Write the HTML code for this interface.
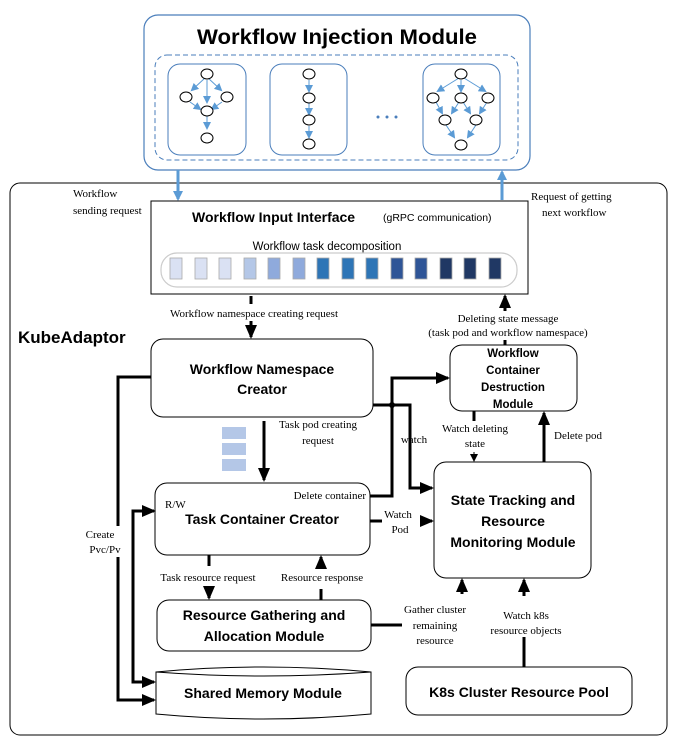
<!DOCTYPE html>
<html><head><meta charset="utf-8"><style>
body{margin:0;background:#fff}
svg{display:block}
.s{font-family:"Liberation Serif",serif;font-size:11px;fill:#000}
.b{font-family:"Liberation Sans",sans-serif;font-weight:bold;fill:#000}
</style></head><body>
<svg width="684" height="749" viewBox="0 0 684 749" xmlns="http://www.w3.org/2000/svg">
<defs>
<marker id="a" markerWidth="8" markerHeight="8" refX="6" refY="4" orient="auto" markerUnits="userSpaceOnUse"><path d="M0,0L8,4L0,8z" fill="#000"/></marker>
<marker id="ab" markerWidth="14" markerHeight="12" refX="12" refY="6" orient="auto" markerUnits="userSpaceOnUse"><path d="M0,0L14,6L0,12z" fill="#000"/></marker>
<marker id="bl" markerWidth="10" markerHeight="10" refX="8" refY="5" orient="auto" markerUnits="userSpaceOnUse"><path d="M0,0L10,5L0,10z" fill="#5b9bd5"/></marker>
<marker id="sb" markerWidth="8" markerHeight="8" refX="6" refY="4" orient="auto" markerUnits="userSpaceOnUse"><path d="M0,0L8,4L0,8z" fill="#5b9bd5"/></marker>
</defs>
<!-- Injection module -->
<rect x="144" y="15" width="386" height="155" rx="14" fill="#fff" stroke="#4a7ebb" stroke-width="1.2"/>
<text x="337" y="44" text-anchor="middle" class="b" font-size="21" textLength="280" lengthAdjust="spacingAndGlyphs">Workflow Injection Module</text>
<rect x="155" y="55" width="363" height="105" rx="12" fill="none" stroke="#4a7ebb" stroke-dasharray="5,3"/>
<rect x="168" y="64" width="78" height="91" rx="12" fill="none" stroke="#4a7ebb"/>
<rect x="270" y="64" width="77" height="91" rx="12" fill="none" stroke="#4a7ebb"/>
<rect x="423" y="64" width="77" height="91" rx="12" fill="none" stroke="#4a7ebb"/>
<g stroke="#5b9bd5" stroke-width="1" marker-end="url(#sb)">
<line x1="205" y1="78" x2="192" y2="90"/><line x1="208" y1="78" x2="221" y2="90"/><line x1="207" y1="80" x2="207" y2="102"/>
<line x1="190" y1="102" x2="200" y2="109"/><line x1="222" y1="102" x2="212" y2="109"/><line x1="207" y1="116" x2="207" y2="128"/>
<line x1="309" y1="80" x2="309" y2="91"/><line x1="309" y1="103" x2="309" y2="114"/><line x1="309" y1="126" x2="309" y2="137"/>
<line x1="459" y1="78" x2="438" y2="91"/><line x1="461" y1="80" x2="461" y2="91"/><line x1="464" y1="78" x2="485" y2="91"/>
<line x1="436" y1="102" x2="442" y2="113"/><line x1="459" y1="102" x2="452" y2="113"/><line x1="463" y1="102" x2="470" y2="113"/><line x1="487" y1="102" x2="480" y2="113"/>
<line x1="446" y1="125" x2="454" y2="137"/><line x1="476" y1="125" x2="468" y2="137"/>
</g>
<g fill="#fff" stroke="#000" stroke-width="1">
<ellipse cx="207" cy="74" rx="6" ry="5"/><ellipse cx="186" cy="97" rx="6" ry="5"/><ellipse cx="227" cy="97" rx="6" ry="5"/><ellipse cx="207" cy="111" rx="6" ry="5"/><ellipse cx="207" cy="138" rx="6" ry="5"/>
<ellipse cx="309" cy="74" rx="6" ry="5"/><ellipse cx="309" cy="98" rx="6" ry="5"/><ellipse cx="309" cy="120" rx="6" ry="5"/><ellipse cx="309" cy="144" rx="6" ry="5"/>
<ellipse cx="461" cy="74" rx="6" ry="5"/><ellipse cx="433" cy="98" rx="6" ry="5"/><ellipse cx="461" cy="98" rx="6" ry="5"/><ellipse cx="488" cy="98" rx="6" ry="5"/>
<ellipse cx="445" cy="120" rx="6" ry="5"/><ellipse cx="476" cy="120" rx="6" ry="5"/><ellipse cx="461" cy="145" rx="6" ry="5"/>
</g>
<g fill="#4a7ebb"><circle cx="378" cy="117" r="1.5"/><circle cx="387" cy="117" r="1.5"/><circle cx="396" cy="117" r="1.5"/></g>
<!-- KubeAdaptor frame -->
<rect x="10" y="183" width="657" height="552" rx="10" fill="none" stroke="#000" stroke-width="1"/>
<line x1="178" y1="170" x2="178" y2="199" stroke="#5b9bd5" stroke-width="3" marker-end="url(#bl)"/>
<line x1="502" y1="200" x2="502" y2="172" stroke="#5b9bd5" stroke-width="3" marker-end="url(#bl)"/>
<text x="73" y="197" class="s" font-size="12">Workflow</text>
<text x="73" y="214" class="s" font-size="12">sending request</text>
<text x="531" y="200" class="s" font-size="12">Request of getting</text>
<text x="542" y="216" class="s" font-size="12">next workflow</text>
<text x="18" y="343" class="b" font-size="17">KubeAdaptor</text>
<!-- Input interface -->
<rect x="151" y="201" width="377" height="93" fill="#fff" stroke="#000"/>
<text x="192" y="222" class="b" font-size="14">Workflow Input Interface</text>
<text x="383" y="221" font-family="Liberation Sans,sans-serif" font-size="10.5">(gRPC communication)</text>
<text x="327" y="250" text-anchor="middle" font-family="Liberation Sans,sans-serif" font-size="11.5">Workflow task decomposition</text>
<rect x="161" y="253" width="356" height="34" rx="16" fill="#fff" stroke="#ccc" stroke-width="1.2"/>
<g stroke="#aaa" stroke-width="0.8">
<rect x="170" y="258" width="12" height="21" fill="#dae1f3"/><rect x="195" y="258" width="12" height="21" fill="#dae1f3"/><rect x="219" y="258" width="12" height="21" fill="#dae1f3"/>
<rect x="244" y="258" width="12" height="21" fill="#b4c7e7"/><rect x="268" y="258" width="12" height="21" fill="#8faadc"/><rect x="293" y="258" width="12" height="21" fill="#8faadc"/>
<rect x="317" y="258" width="12" height="21" fill="#2e75b6"/><rect x="342" y="258" width="12" height="21" fill="#2e75b6"/><rect x="366" y="258" width="12" height="21" fill="#2e75b6"/>
<rect x="391" y="258" width="12" height="21" fill="#2f5597"/><rect x="415" y="258" width="12" height="21" fill="#2f5597"/><rect x="440" y="258" width="12" height="21" fill="#203864"/>
<rect x="464" y="258" width="12" height="21" fill="#203864"/><rect x="489" y="258" width="12" height="21" fill="#203864"/>
</g>
<text x="254" y="317" text-anchor="middle" class="s" font-size="12">Workflow namespace creating request</text>
<line x1="251" y1="296" x2="251" y2="304" stroke="#000" stroke-width="3"/>
<line x1="251" y1="321" x2="251" y2="337" stroke="#000" stroke-width="3" marker-end="url(#ab)"/>
<!-- boxes -->
<rect x="151" y="339" width="222" height="78" rx="12" fill="#fff" stroke="#000"/>
<text x="262" y="374" text-anchor="middle" class="b" font-size="14">Workflow Namespace</text>
<text x="262" y="394" text-anchor="middle" class="b" font-size="14">Creator</text>
<rect x="450" y="345" width="127" height="66" rx="12" fill="#fff" stroke="#000"/>
<g class="b" font-size="11.5" text-anchor="middle"><text x="513" y="357">Workflow</text><text x="513" y="374">Container</text><text x="513" y="391">Destruction</text><text x="513" y="408">Module</text></g>
<rect x="434" y="462" width="157" height="116" rx="12" fill="#fff" stroke="#000"/>
<g class="b" font-size="14" text-anchor="middle"><text x="513" y="505">State Tracking and</text><text x="513" y="526">Resource</text><text x="513" y="547">Monitoring Module</text></g>
<rect x="155" y="483" width="215" height="72" rx="12" fill="#fff" stroke="#000"/>
<text x="262" y="524" text-anchor="middle" class="b" font-size="14">Task Container Creator</text>
<text x="165" y="508" class="s">R/W</text>
<text x="366" y="499" text-anchor="end" class="s">Delete container</text>
<rect x="157" y="600" width="214" height="51" rx="12" fill="#fff" stroke="#000"/>
<g class="b" font-size="14" text-anchor="middle"><text x="264" y="620">Resource Gathering and</text><text x="264" y="641">Allocation Module</text></g>
<path d="M156,672 Q263,662 371,672 L371,714 Q263,724 156,714 Z" fill="#fff" stroke="#000"/>
<path d="M156,672 Q263,680 371,672" fill="none" stroke="#000"/>
<text x="263" y="698" text-anchor="middle" class="b" font-size="14">Shared Memory Module</text>
<rect x="406" y="667" width="226" height="48" rx="12" fill="#fff" stroke="#000"/>
<text x="519" y="697" text-anchor="middle" class="b" font-size="14">K8s Cluster Resource Pool</text>
<!-- stacked rects -->
<g fill="#b4c7e7"><rect x="222" y="427" width="24" height="12"/><rect x="222" y="443" width="24" height="12"/><rect x="222" y="459" width="24" height="12"/></g>
<!-- connectors -->
<g stroke="#000" stroke-width="3" fill="none">
<line x1="264" y1="421" x2="264" y2="480" marker-end="url(#ab)"/>
<path d="M151,377 H118 V526"/>
<path d="M118,557 V700 H154" marker-end="url(#ab)"/>
<path d="M153,511 H133 V682 H154" marker-end="url(#ab)"/>
<line x1="133" y1="511" x2="154" y2="511" marker-end="url(#ab)"/>
<path d="M373,405 H392"/>
<path d="M370,496 H392 V378 H448" marker-end="url(#ab)"/>
<path d="M392,405 H410 V488 H432" marker-end="url(#ab)"/>
<line x1="370" y1="521" x2="382" y2="521"/>
<line x1="420" y1="521" x2="432" y2="521" marker-end="url(#ab)"/>
<line x1="474" y1="411" x2="474" y2="421"/>
<line x1="544" y1="462" x2="544" y2="413" marker-end="url(#ab)"/>
<line x1="505" y1="345" x2="505" y2="340"/>
<line x1="505" y1="311" x2="505" y2="296" marker-end="url(#ab)"/>
<line x1="209" y1="555" x2="209" y2="566"/>
<line x1="209" y1="586" x2="209" y2="598" marker-end="url(#ab)"/>
<line x1="321" y1="600" x2="321" y2="589"/>
<line x1="321" y1="569" x2="321" y2="557" marker-end="url(#ab)"/>
<line x1="371" y1="625" x2="402" y2="625"/>
<line x1="462" y1="594" x2="462" y2="580" marker-end="url(#ab)"/>
<line x1="524" y1="667" x2="524" y2="637"/>
<line x1="524" y1="596" x2="524" y2="580" marker-end="url(#ab)"/>
</g>
<circle cx="392" cy="405" r="3" fill="#000"/>
<line x1="474" y1="452" x2="474" y2="460" stroke="#000" stroke-width="1" marker-end="url(#a)"/>
<text x="318" y="428" text-anchor="middle" class="s">Task pod creating</text>
<text x="318" y="444" text-anchor="middle" class="s">request</text>
<text x="414" y="443" text-anchor="middle" class="s">watch</text>
<text x="398" y="518" text-anchor="middle" class="s">Watch</text>
<text x="400" y="533" text-anchor="middle" class="s">Pod</text>
<text x="475" y="432" text-anchor="middle" class="s">Watch deleting</text>
<text x="475" y="447" text-anchor="middle" class="s">state</text>
<text x="554" y="439" class="s">Delete pod</text>
<text x="508" y="322" text-anchor="middle" class="s">Deleting state message</text>
<text x="508" y="336" text-anchor="middle" class="s">(task pod and workflow namespace)</text>
<text x="208" y="581" text-anchor="middle" class="s">Task resource request</text>
<text x="322" y="581" text-anchor="middle" class="s">Resource response</text>
<text x="435" y="613" text-anchor="middle" class="s">Gather cluster</text>
<text x="435" y="629" text-anchor="middle" class="s">remaining</text>
<text x="435" y="644" text-anchor="middle" class="s">resource</text>
<text x="526" y="619" text-anchor="middle" class="s">Watch k8s</text>
<text x="526" y="634" text-anchor="middle" class="s">resource objects</text>
<text x="100" y="538" text-anchor="middle" class="s">Create</text>
<text x="105" y="553" text-anchor="middle" class="s">Pvc/Pv</text>
</svg>
</body></html>
